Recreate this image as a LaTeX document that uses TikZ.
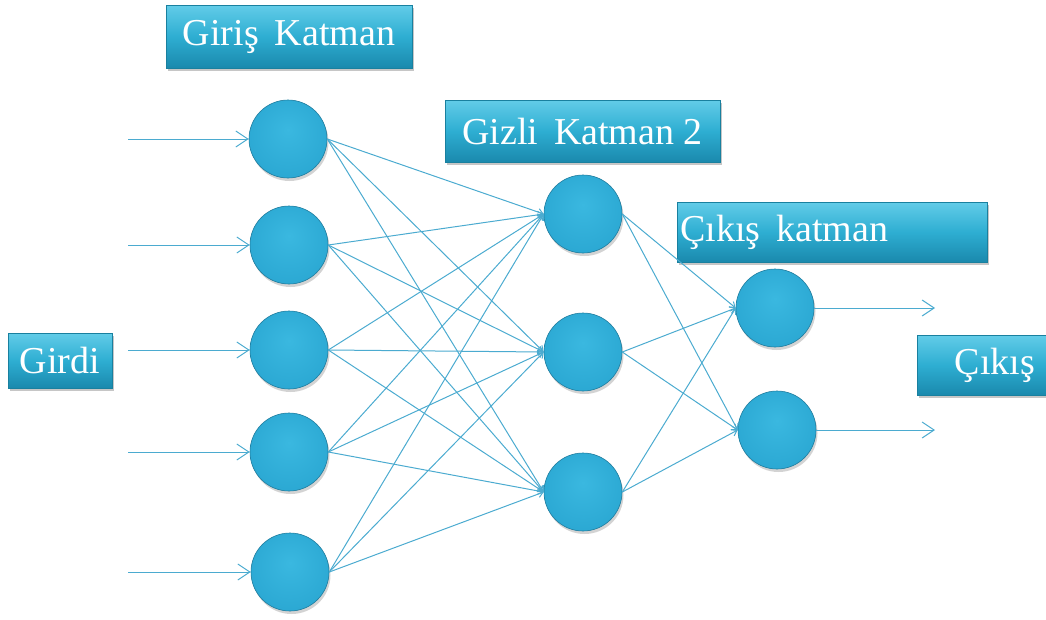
\documentclass[tikz,border=0pt]{standalone}
\usepackage{fontspec}
\setmainfont{Liberation Serif}
\usetikzlibrary{arrows.meta,shadows}

\definecolor{orbA}{HTML}{3AB8E0}
\definecolor{orbB}{HTML}{2AA7D2}
\definecolor{orbC}{HTML}{1D8CB6}
\definecolor{orbEdge}{HTML}{1F7C9E}
\definecolor{boxTop}{HTML}{62CCE8}
\definecolor{boxMid}{HTML}{2EAED2}
\definecolor{boxBot}{HTML}{1A89AD}
\definecolor{boxEdge}{HTML}{19809F}
\definecolor{wire}{HTML}{4BABD0}

\pgfdeclareradialshading{orb}{\pgfpoint{0bp}{6bp}}{%
  color(0bp)=(orbA); color(30bp)=(orbB); color(47bp)=(orbC); color(50bp)=(orbC)}

\tikzset{
  neuron/.style={circle, minimum size=78pt, inner sep=0pt, shading=orb,
    draw=orbEdge, line width=0.6pt,
    drop shadow={opacity=0.35, shadow xshift=1.5pt, shadow yshift=-3pt}},
  labelbox/.style={rectangle, inner sep=0pt, top color=boxTop, bottom color=boxBot,
    middle color=boxMid, draw=boxEdge, line width=0.8pt,
    drop shadow={opacity=0.45, shadow xshift=2pt, shadow yshift=-3pt}},
  labeltext/.style={text=white, font=\fontsize{38}{40}\selectfont, inner sep=0pt},
  link/.style={draw=wire, line width=1pt, -{Straight Barb[length=5pt,width=7pt]}},
  feed/.style={draw=wire, line width=1pt, -{Straight Barb[length=12pt,width=16pt]}}
}

\begin{document}
\begin{tikzpicture}[x=1pt,y=-1pt]
\useasboundingbox (0,0) rectangle (1046,619);

% label boxes
\node[labelbox, minimum width=246pt, minimum height=63pt] (bIn) at (289,36.5) {};
\node[labeltext] at (bIn.center) {Giriş\, Katman};
\node[labelbox, minimum width=275pt, minimum height=62pt] (bHid) at (582.5,131) {};
\node[labeltext] at (bHid.center) {Gizli\, Katman 2};
\node[labelbox, minimum width=310pt, minimum height=60pt] (bOut) at (832,232) {};
\node[labeltext, anchor=west] at (680,232) {Çıkış\, katman};
\node[labelbox, minimum width=104pt, minimum height=55pt] (bGirdi) at (60,360.5) {};
\node[labeltext] at (bGirdi.center) {Girdi};
\node[labelbox, minimum width=160pt, minimum height=60pt] (bCikis) at (997,365) {};
\node[labeltext] at (995,365) {Çıkış};

% input layer
\node[neuron] (i1) at (288,139) {};
\node[neuron] (i2) at (289,245) {};
\node[neuron] (i3) at (289,350) {};
\node[neuron] (i4) at (289,452) {};
\node[neuron] (i5) at (290,572) {};
% hidden layer
\node[neuron] (h1) at (583,214) {};
\node[neuron] (h2) at (583,352) {};
\node[neuron] (h3) at (583,492) {};
% output layer
\node[neuron] (o1) at (775,308) {};
\node[neuron] (o2) at (777,430) {};

% free ends of the input and output arrows
\coordinate (x1) at (128,139);
\coordinate (x2) at (128,245);
\coordinate (x3) at (128,350);
\coordinate (x4) at (128,452);
\coordinate (x5) at (128,572);
\coordinate (y1) at (935,308);
\coordinate (y2) at (935,430);

% connections
\foreach \i in {1,...,5}{
  \draw[feed] (x\i) -- (i\i.west);
  \foreach \h in {1,2,3}{
    \draw[link] (i\i.east) -- (h\h.west);
  }
}
\foreach \h in {1,2,3}{
  \foreach \o in {1,2}{
    \draw[link] (h\h.east) -- (o\o.west);
  }
}
\draw[feed] (o1.east) -- (y1);
\draw[feed] (o2.east) -- (y2);
\end{tikzpicture}
\end{document}
